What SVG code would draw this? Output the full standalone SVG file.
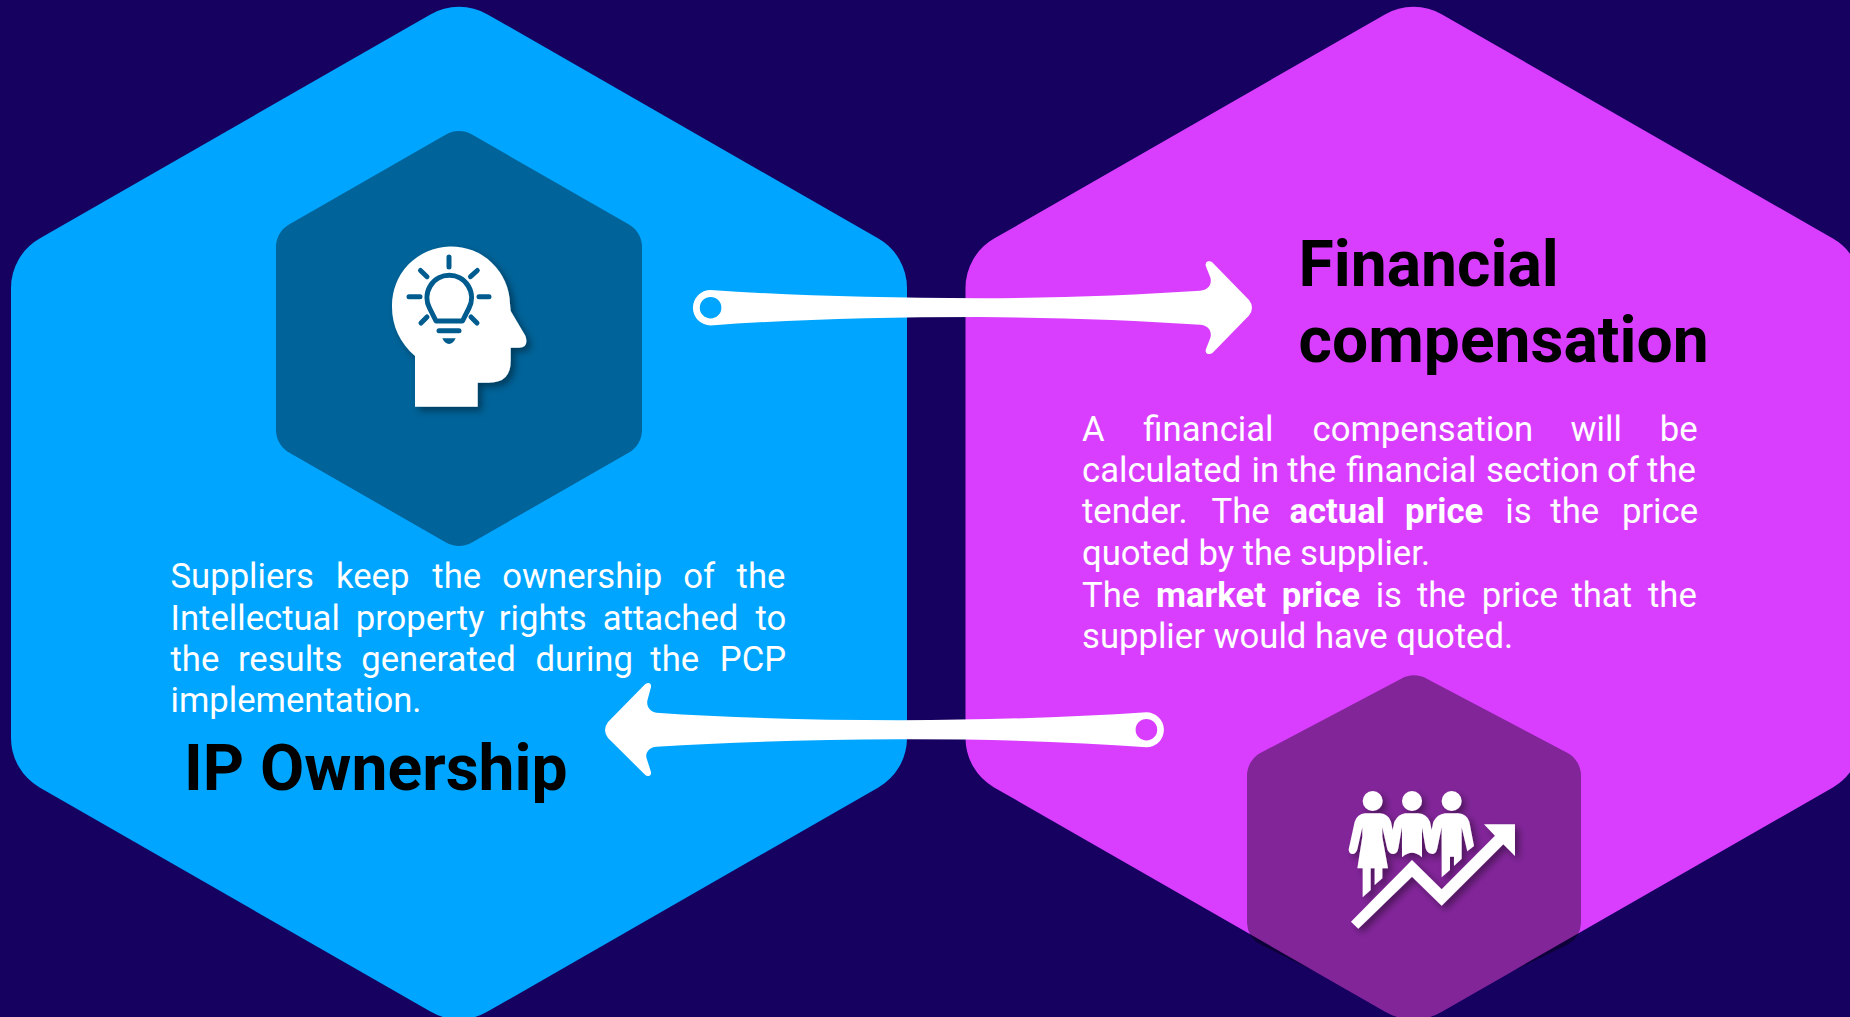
<svg xmlns="http://www.w3.org/2000/svg" width="1850" height="1017" viewBox="0 0 1850 1017">
<defs>
<filter id="shadow" x="-20%" y="-20%" width="150%" height="150%"><feDropShadow dx="4" dy="4" stdDeviation="3.5" flood-color="#000" flood-opacity="0.4"/></filter>
<path id="bigHex" d="M430.4,14.4A57 57 0 0 1 487.6,14.4L878.4,238.6A57 57 0 0 1 907,288V738A57 57 0 0 1 878.4,787.4L487.6,1011.6A57 57 0 0 1 430.4,1011.6L39.6,787.4A57 57 0 0 1 11,738V288A57 57 0 0 1 39.6,238.6Z"/>
</defs>
<style>
.body{font-family:Roboto,"Liberation Sans",sans-serif;font-size:34.67px;fill:#fff;font-weight:400}
.head{font-family:Roboto,"Liberation Sans",sans-serif;font-size:64.2px;fill:#000;font-weight:700}
.b{font-weight:700}
.in{fill:#000;fill-opacity:.4}
.dk{fill:none;stroke:#005c8e;stroke-width:5;stroke-linecap:round;stroke-linejoin:round}
.arrow{fill:#fff;fill-rule:evenodd}
</style>
<rect width="1850" height="1017" fill="#160060"/>
<g id="node-ip-ownership">
<use href="#bigHex" fill="#00a5ff"/>
<path class="in" d="M446,134.5A26 26 0 0 1 472,134.5L629,224.5A26 26 0 0 1 642,247V430A26 26 0 0 1 629,452.5L472,542.5A26 26 0 0 1 446,542.5L289,452.5A26 26 0 0 1 276,430V247A26 26 0 0 1 289,224.5Z"/>
<g id="icon-head">
<path fill="#fff" filter="url(#shadow)" d="M415,406.7V356C400,343 392,326 392,306.7A59 59 0 0 1 510,304L510.7,311L525.5,336Q529,347.7 519,347.7H510.7V361Q510.7,382.7 489,382.7H477.7V406.7Z"/>
<path class="dk" d="M436,321L429.5,308A22.3 22.3 0 1 1 469,308L462.5,321Z"/>
<path class="dk" d="M449,257V267M479,296.7H489M409,296.7H420M420.5,270.5L427,276.7M477.3,270.5L470.5,276.7M421,323L427,317M477,323L471,317M439,330.7H459"/>
<path fill="#005c8e" d="M442.3,338.3H455.7Q453,344 449,344Q445,344 442.3,338.3Z"/>
</g>
<text class="body" y="588.3"><tspan x="170.5">Suppliers </tspan><tspan x="336">keep </tspan><tspan x="432.3">the </tspan><tspan x="502.2">ownership </tspan><tspan x="683.2">of </tspan><tspan x="736.6">the</tspan></text>
<text class="body" y="629.7"><tspan x="170.5">Intellectual </tspan><tspan x="355.7">property </tspan><tspan x="498.8">rights </tspan><tspan x="602.8">attached </tspan><tspan x="755.5">to</tspan></text>
<text class="body" y="671"><tspan x="170.5">the </tspan><tspan x="237.9">results </tspan><tspan x="361.2">generated </tspan><tspan x="535.5">during </tspan><tspan x="650.3">the </tspan><tspan x="719.8">PCP</tspan></text>
<text class="body" x="170.5" y="712.3">implementation.</text>
<text class="head" x="184" y="790">IP Ownership</text>
</g>
<g id="node-financial-compensation">
<use href="#bigHex" x="954.5" fill="#d93eff"/>
<path class="in" d="M1400.7,679A26 26 0 0 1 1427.3,679L1567.7,753A26 26 0 0 1 1581,775V923A26 26 0 0 1 1567.7,944.5L1513,971.1L1442.1,1011.6A57 57 0 0 1 1384.9,1011.6L1314,971L1260.3,944.5A26 26 0 0 1 1247,923V775A26 26 0 0 1 1260.3,753Z"/>
<g id="icon-people" filter="url(#shadow)" fill="#fff">
<g transform="translate(1330 780) scale(.3333)">
<circle cx="128" cy="63" r="30"/><circle cx="246" cy="63" r="30"/><circle cx="365" cy="63" r="30"/>
<path d="M105,100Q82,102 74,125L56,208Q56,222 68,222Q78,222 82,208L97,142V170L82,265H98V352L122,330V265H134V315L157,295V265H174L157,170V142L172,208Q177,222 190,222Q202,222 205,205L216,142V232Q246,205 276,232V142L287,205Q292,222 308,222Q318,222 322,205L335,142V292L360,270V230H372V258L395,236V142L412,214L432,198L418,125Q410,102 385,100H345Q322,103 310,125L305,150L300,125Q290,102 265,100H225Q205,103 193,125L188,150L183,125Q175,102 150,100Z"/>
</g>
<g transform="translate(1220 660) scale(.3333)">
<path d="M393,785L576,600L665,688L825,527L792,493H885V588L850,553L665,737L576,650L415,806Z"/>
</g>
</g>
<text class="head" x="1298.5" y="285.7">Financial</text>
<text class="head" x="1298.5" y="362">compensation</text>
<text class="body" y="440.7"><tspan x="1082">A </tspan><tspan x="1143.3">financial </tspan><tspan x="1312.5">compensation </tspan><tspan x="1570.5">will </tspan><tspan x="1659.8">be</tspan></text>
<text class="body" y="481.9"><tspan x="1082">calculated </tspan><tspan x="1251.5">in </tspan><tspan x="1287.3">the </tspan><tspan x="1346.2">financial </tspan><tspan x="1485.9">section </tspan><tspan x="1607.1">of </tspan><tspan x="1647.1">the</tspan></text>
<text class="body" y="523.3"><tspan x="1082">tender. </tspan><tspan x="1211.5">The </tspan><tspan x="1289.4" class="b">actual </tspan><tspan x="1405.1" class="b">price </tspan><tspan x="1505.3">is </tspan><tspan x="1550.3">the </tspan><tspan x="1621.9">price</tspan></text>
<text class="body" x="1082" y="565">quoted by the supplier.</text>
<text class="body" y="606.7"><tspan x="1082">The </tspan><tspan x="1156" class="b">market </tspan><tspan x="1281.8" class="b">price </tspan><tspan x="1375.7">is </tspan><tspan x="1416.9">the </tspan><tspan x="1481.7">price </tspan><tspan x="1571.4">that </tspan><tspan x="1648">the</tspan></text>
<text class="body" x="1082" y="648.3">supplier would have quoted.</text>
</g>
<g id="connectors">
<path class="arrow" d="M710.6,290Q825,298 980,298.3Q1100,297.5 1200,290.7C1208,290 1212,285 1210.5,278L1205.8,266Q1205,262 1208,261.3Q1211,261 1212.7,262.7L1249,300Q1255,307.7 1249,315.4L1212.7,352.7Q1211,354.4 1208,354Q1205,353.4 1205.8,349.4L1210.5,337.4C1212,330.4 1208,325.4 1200,324.7Q1100,318 980,317Q825,317 710.6,325.4A17.7 17.7 0 0 1 710.6,290ZM721.4,307.7A10.8 10.8 0 1 0 699.8,307.7A10.8 10.8 0 1 0 721.4,307.7Z"/>
<path class="arrow" d="M1146.4,712.3Q1040,719.5 900,720.3Q760,720 656.5,712.7C650,712 646,706 647.5,700L651,687Q651.5,683.5 649,683Q646.5,682.5 644.8,684.5L608,722Q602,730 608,738L644.8,774.5Q646.5,776.5 649,776Q651.5,775.5 651,772L646.5,758C645,752 650,747 656.5,746.7Q760,740 900,739.3Q1040,739 1146.4,747.3A17.5 17.5 0 0 0 1146.4,712.3ZM1157.2,729.7A10.8 10.8 0 1 0 1135.6,729.7A10.8 10.8 0 1 0 1157.2,729.7Z"/>
</g>
</svg>
